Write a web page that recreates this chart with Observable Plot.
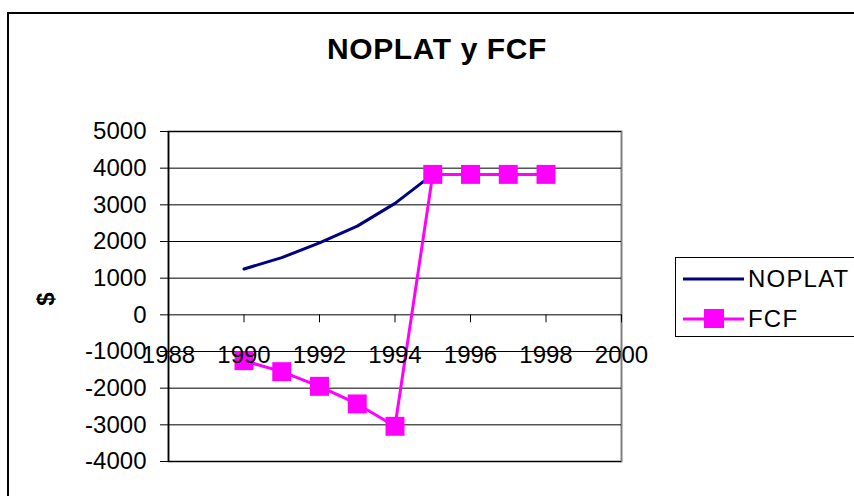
<!DOCTYPE html>
<html>
<head>
<meta charset="utf-8">
<script src="https://cdn.jsdelivr.net/npm/d3@7"></script>
<script src="https://cdn.jsdelivr.net/npm/@observablehq/plot@0.6"></script>
<style>
  html, body { margin: 0; padding: 0; background: #fff; overflow: hidden; }
  body { width: 854px; height: 496px; position: relative; font-family: "Liberation Sans", Arial, sans-serif; }
  #border { position: absolute; left: 7px; top: 12px; width: 900px; height: 600px; border: 2px solid #000; box-sizing: border-box; }
  #chart { position: absolute; left: 0; top: 0; }
  #title { position: absolute; left: 0; width: 874px; top: 32px; text-align: center; font-weight: bold; font-size: 30px; letter-spacing: 0.6px; }
  #ylabel { position: absolute; left: 46px; top: 299px; font-weight: bold; font-size: 24px; transform: translate(-50%, -50%) rotate(-90deg); }
  #legend { position: absolute; left: 675px; top: 257px; width: 200px; height: 80px; border: 1px solid #000; box-sizing: border-box; background: #fff; }
  .item { position: absolute; left: 7px; height: 30px; display: flex; align-items: center; font-size: 24px; letter-spacing: 1.2px; }
  .item svg { margin-right: 4px; }
</style>
</head>
<body>
<div id="border"></div>
<div id="chart"></div>
<div id="title">NOPLAT y FCF</div>
<div id="ylabel">$</div>
<div id="legend"></div>
<script>
const years = [1990, 1991, 1992, 1993, 1994, 1995, 1996, 1997, 1998];
const noplatYears = [1990, 1991, 1992, 1993, 1994, 1995];
const noplat = [1250, 1560, 1960, 2420, 3040, 3830];
const fcf = [-1250, -1550, -1950, -2430, -3040, 3830, 3830, 3830, 3830];
const xTicks = [1988, 1990, 1992, 1994, 1996, 1998, 2000];
const yTicks = [-4000, -3000, -2000, -1000, 0, 1000, 2000, 3000, 4000, 5000];
const seriesNames = ["NOPLAT", "FCF"];
const colors = {NOPLAT: "#000080", FCF: "#FF00FF"};

const noplatData = noplatYears.map((y, i) => ({year: y, value: noplat[i]}));
const fcfData = years.map((y, i) => ({year: y, value: fcf[i]}));

const chart = Plot.plot({
  width: 854,
  height: 496,
  marginLeft: 168,
  marginRight: 233,
  marginTop: 131,
  marginBottom: 35,
  style: {fontFamily: "'Liberation Sans', Arial, sans-serif", background: "transparent", overflow: "visible"},
  x: {domain: [1988, 2000], axis: null},
  y: {domain: [-4000, 5000], axis: null},
  marks: [
    Plot.frame({stroke: "#808080", strokeWidth: 2}),
    Plot.gridY(yTicks, {stroke: "#000", strokeOpacity: 1, strokeWidth: 1}),
    Plot.ruleX([1988], {stroke: "#000", strokeWidth: 1.5}),
    Plot.axisY(yTicks, {anchor: "left", label: null, tickSize: 8, tickPadding: 14, fontSize: 24, stroke: "#000", fill: "#000", tickFormat: d => String(d)}),
    Plot.ruleX(xTicks, {x: d => d, y1: 0, y2: 0, insetBottom: -8, stroke: "#000", strokeWidth: 1}),
    Plot.line(noplatData, {x: "year", y: "value", stroke: colors.NOPLAT, strokeWidth: 3}),
    Plot.line(fcfData, {x: "year", y: "value", stroke: colors.FCF, strokeWidth: 3}),
    Plot.dot(fcfData, {x: "year", y: "value", symbol: "square", r: 10.7, fill: colors.FCF, stroke: "none"}),
    Plot.text(xTicks, {x: d => d, y: 0, dy: 40, text: d => String(d), fontSize: 24, fill: "#000"})
  ]
});
document.getElementById("chart").appendChild(chart);

const legend = document.getElementById("legend");
seriesNames.forEach((name, i) => {
  const item = document.createElement("div");
  item.className = "item";
  item.style.top = (6 + i * 40) + "px";
  const ns = "http://www.w3.org/2000/svg";
  const s = document.createElementNS(ns, "svg");
  s.setAttribute("width", "61");
  s.setAttribute("height", "22");
  const l = document.createElementNS(ns, "line");
  l.setAttribute("x1", "0"); l.setAttribute("x2", "61");
  l.setAttribute("y1", "11"); l.setAttribute("y2", "11");
  l.setAttribute("stroke", colors[name]); l.setAttribute("stroke-width", "3");
  s.appendChild(l);
  if (name === "FCF") {
    const r = document.createElementNS(ns, "rect");
    r.setAttribute("x", "21"); r.setAttribute("y", "1");
    r.setAttribute("width", "20"); r.setAttribute("height", "19");
    r.setAttribute("fill", colors[name]);
    s.appendChild(r);
  }
  item.appendChild(s);
  const t = document.createElement("span");
  t.textContent = name;
  item.appendChild(t);
  legend.appendChild(item);
});
</script>
</body>
</html>
